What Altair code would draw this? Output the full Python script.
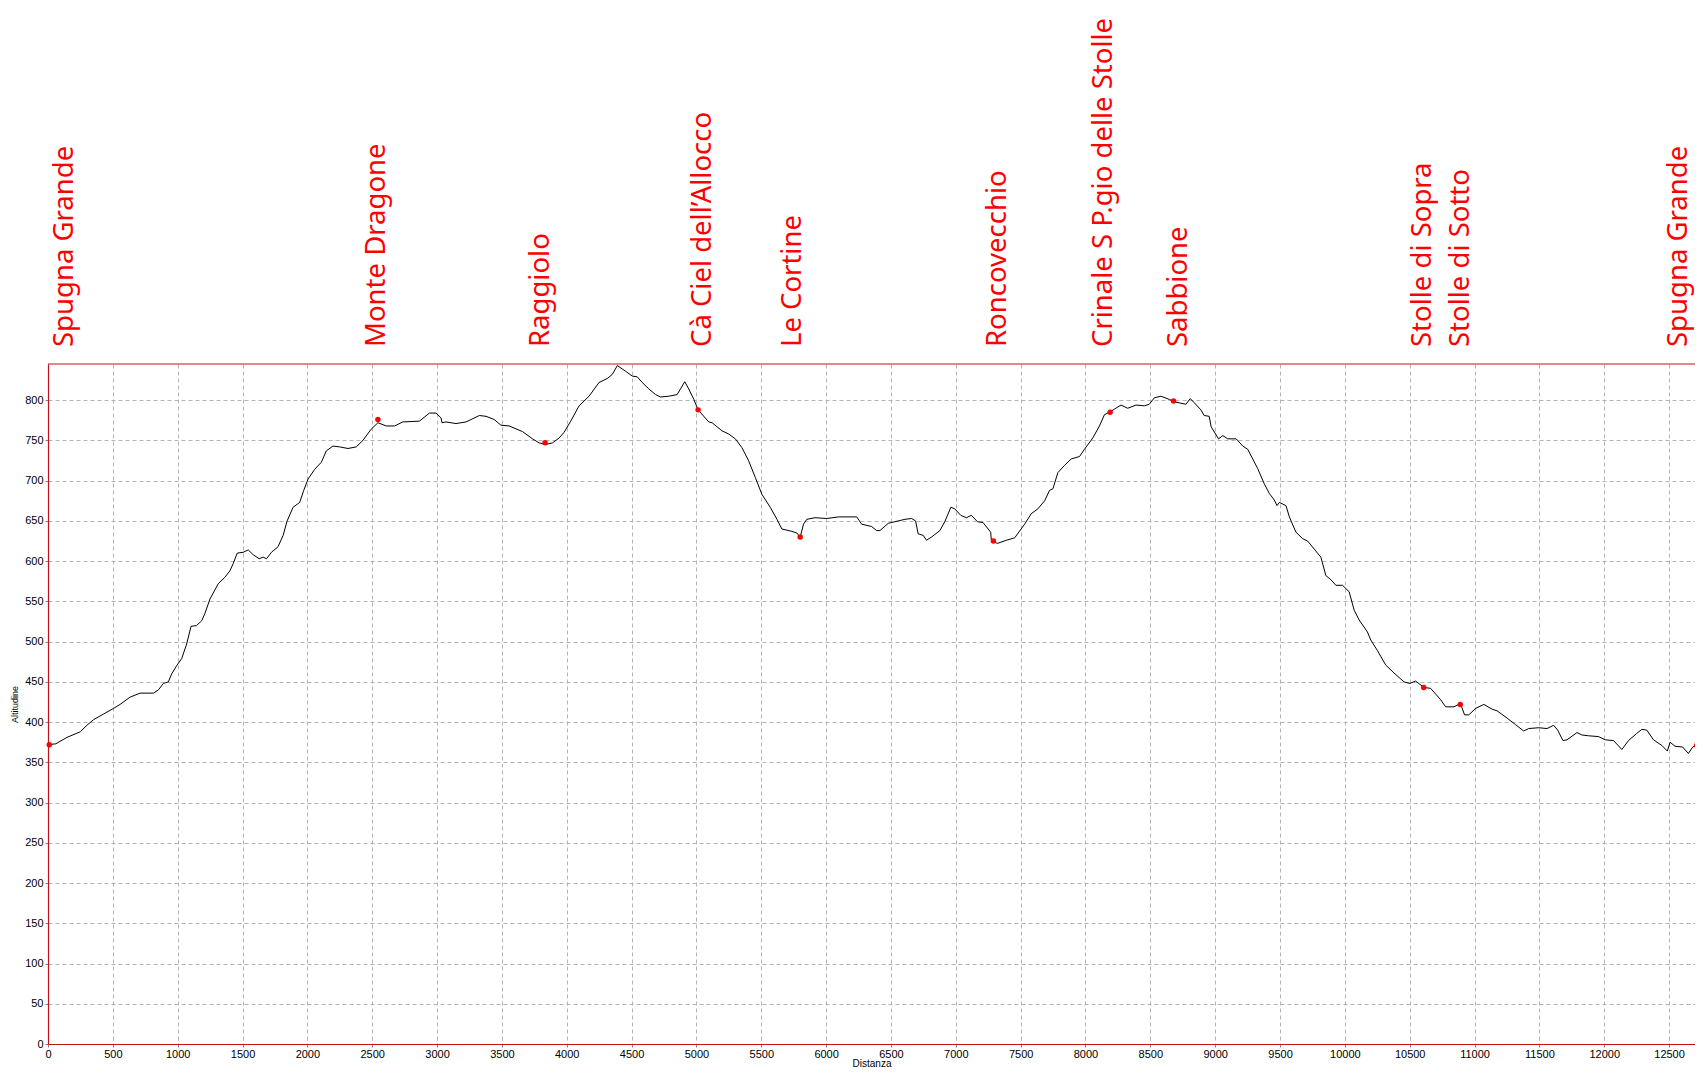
import altair as alt
import pandas as pd

# ---- profile (distance in m, altitude in m) ----
dist = [0, 60, 146, 249, 300, 351, 428, 505, 556, 633, 710, 813, 851, 890, 928, 954, 992, 1031,
        1069, 1103, 1146, 1185, 1210, 1249, 1313, 1364, 1403, 1428, 1459, 1505, 1544, 1582, 1628,
        1659, 1685, 1723, 1774, 1813, 1844, 1890, 1941, 1972, 2005, 2056, 2108, 2146, 2197, 2249,
        2313, 2377, 2428, 2492, 2544, 2608, 2672, 2736, 2864, 2941, 2992, 3031, 3038, 3069, 3146,
        3223, 3262, 3326, 3377, 3441, 3492, 3556, 3659, 3736, 3787, 3838, 3890, 3941, 3979, 4031,
        4095, 4172, 4249, 4313, 4351, 4390, 4454, 4505, 4544, 4582, 4633, 4685, 4723, 4787, 4851,
        4877, 4910, 4941, 4980, 5013, 5095, 5121, 5197, 5249, 5300, 5351, 5402, 5454, 5505, 5569,
        5621, 5659, 5736, 5774, 5800, 5826, 5851, 5915, 6005, 6095, 6236, 6274, 6351, 6390, 6415,
        6479, 6556, 6608, 6659, 6690, 6710, 6749, 6774, 6813, 6877, 6915, 6962, 6992, 7038, 7082,
        7120, 7167, 7210, 7269, 7274, 7320, 7390, 7454, 7531, 7582, 7633, 7685, 7723, 7749, 7787,
        7838, 7890, 7954, 7992, 8056, 8108, 8146, 8185, 8223, 8274, 8326, 8390, 8454, 8492, 8531,
        8582, 8646, 8685, 8774, 8808, 8838, 8890, 8915, 8954, 8969, 9026, 9059, 9097, 9162, 9213,
        9251, 9290, 9328, 9379, 9418, 9456, 9477, 9495, 9546, 9572, 9623, 9674, 9713, 9764, 9815,
        9854, 9892, 9931, 9982, 10033, 10072, 10110, 10174, 10200, 10251, 10315, 10379, 10456,
        10500, 10546, 10610, 10661, 10738, 10777, 10841, 10892, 10923, 10956, 11008, 11072, 11136,
        11174, 11251, 11315, 11379, 11418, 11495, 11559, 11610, 11641, 11682, 11713, 11790, 11828,
        11879, 11956, 12008, 12072, 12136, 12187, 12251, 12290, 12328, 12380, 12444, 12487, 12508,
        12546, 12605, 12649, 12682, 12715]
altitude = [372, 373, 381, 388, 396, 403, 410, 417, 422, 431, 436, 436, 440, 448, 450, 460, 470, 479,
            497, 519, 520, 526, 535, 553, 572, 580, 588, 597, 610, 611, 614, 608, 603,
            605, 603, 611, 618, 632, 650, 667, 673, 688, 702, 714, 723, 737, 743, 742,
            740, 742, 750, 764, 772, 768, 768, 773, 774, 784, 784, 778, 772, 773, 771,
            773, 776, 781, 780, 776, 769, 768, 761, 752, 747, 745, 747, 753, 760, 774,
            793, 805, 822, 827, 832, 843, 836, 830, 829, 822, 814, 807, 804, 805, 807,
            814, 823, 814, 801, 788, 773, 772, 762, 758, 752, 741, 725, 704, 683, 667,
            652, 640, 637, 635, 630, 646, 652, 654, 653, 655, 655, 646, 643, 638, 638,
            647, 650, 652, 653, 650, 634, 632, 626, 630, 638, 649, 667, 665, 657, 654,
            657, 649, 648, 636, 626, 622, 626, 629, 646, 659, 665, 675, 688, 690, 710,
            719, 727, 730, 739, 753, 768, 782, 785, 789, 794, 790, 794, 793, 795, 803,
            805, 801, 798, 795, 802, 797, 788, 781, 780, 767, 752, 756, 752, 752, 743,
            739, 727, 715, 696, 684, 676, 669, 673, 669, 655, 636, 628, 625, 615, 605,
            582, 577, 570, 570, 562, 539, 527, 512, 502, 489, 471, 461, 450,
            448, 451, 443, 442, 428, 419, 419, 423, 409, 409, 417, 422, 416,
            414, 405, 397, 389, 392, 393, 392, 396, 390, 377, 378, 387, 384,
            383, 382, 378, 377, 366, 377, 386, 391, 390, 378, 371, 364, 375,
            370, 369, 361, 369, 372]

# ---- waypoints (red dots) ----
marker_dist = [10, 2544, 3833, 5013, 5800, 7290, 8190, 8679, 10608, 10890, 12713]
marker_alt = [372, 776, 747, 788, 630, 625, 785, 799, 443, 422, 371]

# ---- waypoint names and where their labels sit ----
label_text = ["Spugna Grande", "Monte Dragone", "Raggiolo", "Cà Ciel dell’Allocco", "Le Cortine",
              "Roncovecchio", "Crinale S P.gio delle Stolle", "Sabbione", "Stolle di Sopra",
              "Stolle di Sotto", "Spugna Grande"]
label_dist = [131, 2540, 3805, 5048, 5745, 7324, 8139, 8719, 10603, 10897, 12578]

x_ticks = list(range(0, 12501, 500))
y_ticks = list(range(0, 801, 50))

X_MAX = 12700
Y_MAX = 845
W, H = 1647, 680
AXIS_RED = "#c0141c"
LABEL_RED = "#ff0000"

line_df = pd.DataFrame({"Distanza": dist, "Altitudine": altitude})
marker_df = pd.DataFrame({"Distanza": marker_dist, "Altitudine": marker_alt})
label_df = pd.DataFrame({"Distanza": label_dist, "Nome": label_text})
frame_df = pd.DataFrame({"k": [0]})

x_scale = alt.Scale(domain=[0, X_MAX], nice=False, zero=False)
y_scale = alt.Scale(domain=[0, Y_MAX], nice=False, zero=False)

x_axis = alt.Axis(values=x_ticks, format="d", title="Distanza",
                  titleFont="Liberation Sans", titleFontSize=10, titleFontWeight="normal",
                  titleColor="black", titlePadding=-1,
                  labelFont="Liberation Sans", labelFontSize=11, labelColor="black",
                  labelPadding=1, labelFlush=False, labelOverlap=False,
                  tickSize=3, tickColor="#808080",
                  domainColor=AXIS_RED, domainWidth=1.2,
                  grid=True, gridColor="#b4b4b4", gridDash=[4, 3], gridWidth=1)
y_axis = alt.Axis(values=y_ticks, format="d", title="Altitudine",
                  titleFont="Liberation Sans", titleFontSize=9, titleFontWeight="normal",
                  titleColor="black", titlePadding=5,
                  labelFont="Liberation Sans", labelFontSize=11, labelColor="black",
                  labelPadding=2, labelFlush=False, labelOverlap=False,
                  tickSize=3, tickColor="#808080",
                  domainColor=AXIS_RED, domainWidth=1.2,
                  grid=True, gridColor="#b4b4b4", gridDash=[4, 3], gridWidth=1)

x_enc = alt.X("Distanza:Q", scale=x_scale, axis=x_axis)
y_enc = alt.Y("Altitudine:Q", scale=y_scale, axis=y_axis)

line = alt.Chart(line_df).mark_line(color="black", strokeWidth=1).encode(x=x_enc, y=y_enc)

points = alt.Chart(marker_df).mark_circle(color=LABEL_RED, size=30, opacity=1).encode(x=x_enc, y=y_enc)

labels = alt.Chart(label_df).mark_text(
    angle=270, align="left", baseline="middle",
    font="Noto Sans", fontSize=27.5, color=LABEL_RED
).encode(x=x_enc, y=alt.value(-17), text="Nome:N")

top_border = alt.Chart(frame_df).mark_rule(color=AXIS_RED, strokeWidth=1.2).encode(
    x=alt.value(0), x2=alt.value(W), y=alt.value(0)
)

chart = alt.layer(line, points, top_border, labels).properties(
    width=W, height=H,
    autosize=alt.AutoSizeParams(type="none"),
    padding={"left": 40, "top": 356, "right": 0, "bottom": 23},
).configure_view(stroke=None)

chart.save("out.html", embed_options={"renderer": "svg", "actions": False})
